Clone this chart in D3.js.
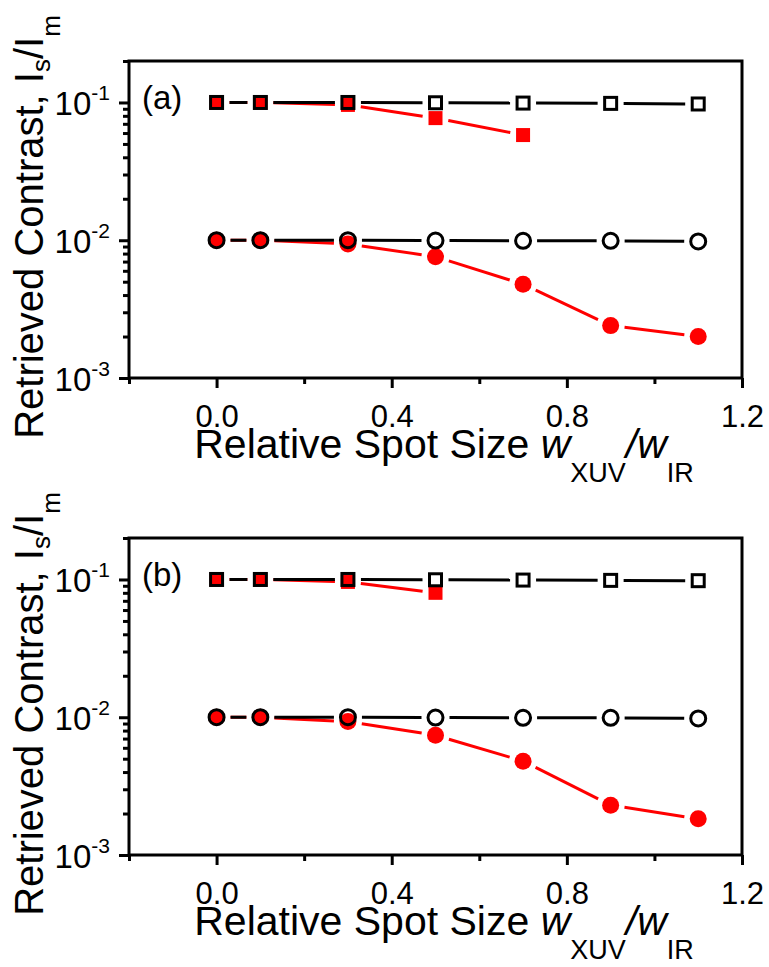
<!DOCTYPE html>
<html lang="en">
<head>
  <meta charset="UTF-8">
  <title>Retrieved Contrast vs Relative Spot Size</title>
  <script src="https://d3js.org/d3.v7.min.js"></script>
  <style>
    body { margin: 0; padding: 0; background: #fff; }
    svg { display: block; font-family: "Liberation Sans", Arial, sans-serif; }
    .frame { fill: none; stroke: #000; stroke-width: 3px; }
    .tick line { stroke: #000; stroke-width: 3px; }
  </style>
</head>
<body>
  <svg width="769" height="967"></svg>
  <script>
    // === data ===
    const xVals = [0, 0.1, 0.3, 0.5, 0.7, 0.9, 1.1];

    // panel (a)
    const aOpenSquares = [0.1, 0.1, 0.1, 0.0995, 0.099, 0.0985, 0.0975];
    const aOpenCircles = [0.01, 0.01, 0.01, 0.00995, 0.0099, 0.0099, 0.0098];
    const aRedSquares  = [0.1, 0.1, 0.096, 0.077, 0.058];
    const aRedCircles  = [0.01, 0.01, 0.0094, 0.0076, 0.0048, 0.0024, 0.0020];

    // panel (b)
    const bOpenSquares = [0.1, 0.1, 0.1, 0.0995, 0.099, 0.0985, 0.098];
    const bOpenCircles = [0.01, 0.01, 0.01, 0.00995, 0.0099, 0.0099, 0.0098];
    const bRedSquares  = [0.1, 0.1, 0.096, 0.080];
    const bRedCircles  = [0.01, 0.01, 0.0093, 0.0074, 0.0048, 0.0023, 0.00183];

    const xTickMajor = [0.0, 0.4, 0.8, 1.2];
    const xTickMinor = [-0.2, 0.2, 0.6, 1.0];
    const yDecades = [-3, -2, -1];

    const panels = [
      { label: "(a)", top: 61, sq: aOpenSquares, ci: aOpenCircles, rsq: aRedSquares, rci: aRedCircles },
      { label: "(b)", top: 538, sq: bOpenSquares, ci: bOpenCircles, rsq: bRedSquares, rci: bRedCircles }
    ];

    const svg = d3.select("svg");
    const left = 129, right = 742, plotH = 317;
    const RED = "#f00";

    const x = d3.scaleLinear().domain([-0.2, 1.2]).range([left, right]);

    // line segments with gaps around the markers (Origin style)
    function gapSegments(pts, gap) {
      const segs = [];
      for (let i = 0; i < pts.length - 1; i++) {
        const [x1, y1] = pts[i], [x2, y2] = pts[i + 1];
        const dx = x2 - x1, dy = y2 - y1, len = Math.hypot(dx, dy);
        if (len <= 2 * gap) continue;
        const ux = dx / len, uy = dy / len;
        segs.push([x1 + ux * gap, y1 + uy * gap, x2 - ux * gap, y2 - uy * gap]);
      }
      return segs;
    }

    function drawLine(g, pts, color, gap) {
      g.selectAll(null)
        .data(gapSegments(pts, gap))
        .enter().append("line")
        .attr("x1", d => d[0]).attr("y1", d => d[1])
        .attr("x2", d => d[2]).attr("y2", d => d[3])
        .attr("stroke", color).attr("stroke-width", 3);
    }

    panels.forEach(p => {
      const y = d3.scaleLog().domain([0.001, 0.2]).range([p.top + plotH, p.top]);
      const g = svg.append("g");
      const bottom = p.top + plotH;

      // frame
      g.append("rect").attr("class", "frame")
        .attr("x", left).attr("y", p.top)
        .attr("width", right - left).attr("height", plotH);

      // x axis ticks
      g.append("g").attr("transform", `translate(0,${bottom})`)
        .call(d3.axisBottom(x).tickValues(xTickMajor).tickSize(10).tickFormat(d3.format(".1f")))
        .call(a => a.select(".domain").remove())
        .call(a => a.selectAll("text").attr("font-size", 31).attr("y", 49).attr("dy", 0)
          .attr("fill", "#000").attr("font-family", "Liberation Sans, Arial, sans-serif"));
      g.append("g").attr("transform", `translate(0,${bottom})`)
        .call(d3.axisBottom(x).tickValues(xTickMinor).tickSize(6).tickFormat(""))
        .call(a => a.select(".domain").remove());

      // y axis ticks: decades major, 2..9 minor
      const minorVals = [];
      yDecades.forEach(e => { for (let k = 2; k <= 9; k++) { const v = k * Math.pow(10, e); if (v <= 0.2) minorVals.push(v); } });
      g.append("g").attr("transform", `translate(${left},0)`)
        .call(d3.axisLeft(y).tickValues(minorVals).tickSize(6).tickFormat(""))
        .call(a => a.select(".domain").remove());
      g.append("g").attr("transform", `translate(${left},0)`)
        .call(d3.axisLeft(y).tickValues(yDecades.map(e => Math.pow(10, e))).tickSize(10).tickFormat(""))
        .call(a => a.select(".domain").remove());

      // decade labels with superscripts
      yDecades.forEach(e => {
        const t = g.append("text")
          .attr("x", 110).attr("y", y(Math.pow(10, e)) + 13)
          .attr("text-anchor", "end").attr("font-size", 33);
        t.append("tspan").text("10");
        t.append("tspan").attr("font-size", 21).attr("dy", -15).text(String(e));
      });

      // series pixel coords
      const sqPts = p.sq.map((v, i) => [x(xVals[i]), y(v)]);
      const ciPts = p.ci.map((v, i) => [x(xVals[i]), y(v)]);
      const rsqPts = p.rsq.map((v, i) => [x(xVals[i]), y(v)]);
      const rciPts = p.rci.map((v, i) => [x(xVals[i]), y(v)]);

      // red series first
      drawLine(g, rsqPts, RED, 13);
      drawLine(g, rciPts, RED, 14);
      g.selectAll(null).data(rsqPts).enter().append("rect")
        .attr("x", d => d[0] - 7).attr("y", d => d[1] - 7)
        .attr("width", 14).attr("height", 14).attr("fill", RED);
      g.selectAll(null).data(rciPts).enter().append("circle")
        .attr("cx", d => d[0]).attr("cy", d => d[1]).attr("r", 8.5).attr("fill", RED);

      // black open series on top
      drawLine(g, sqPts, "#000", 13);
      drawLine(g, ciPts, "#000", 14);
      g.selectAll(null).data(sqPts).enter().append("rect")
        .attr("x", d => d[0] - 6).attr("y", d => d[1] - 6)
        .attr("width", 12).attr("height", 12)
        .attr("fill", "none").attr("stroke", "#000").attr("stroke-width", 3);
      g.selectAll(null).data(ciPts).enter().append("circle")
        .attr("cx", d => d[0]).attr("cy", d => d[1]).attr("r", 7.5)
        .attr("fill", "none").attr("stroke", "#000").attr("stroke-width", 3);

      // panel label
      g.append("text").attr("x", 142).attr("y", p.top + 48)
        .attr("font-size", 33).text(p.label);

      // x axis title
      const xt = g.append("text").attr("x", 444).attr("y", bottom + 80)
        .attr("text-anchor", "middle").attr("font-size", 41);
      xt.append("tspan").text("Relative Spot Size ");
      xt.append("tspan").attr("font-style", "italic").text("w");
      xt.append("tspan").attr("font-size", 27).attr("dy", 24).text("XUV");
      xt.append("tspan").attr("font-style", "italic").attr("dy", -24).text("/w");
      xt.append("tspan").attr("font-size", 27).attr("dy", 24).text("IR");

      // y axis title
      const yt = g.append("text")
        .attr("transform", `translate(43,${p.top + 166}) rotate(-90)`)
        .attr("text-anchor", "middle").attr("font-size", 40);
      yt.append("tspan").text("Retrieved Contrast, I");
      yt.append("tspan").attr("font-size", 26).attr("dy", 7).text("s");
      yt.append("tspan").attr("dy", -7).text("/I");
      yt.append("tspan").attr("font-size", 26).attr("dy", 17).text("m");
    });
  </script>
</body>
</html>
